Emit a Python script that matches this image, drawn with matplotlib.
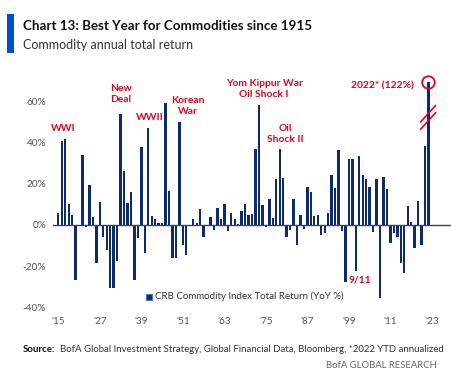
import numpy as np
import matplotlib
matplotlib.use("Agg")
import matplotlib.pyplot as plt
from matplotlib.patches import Rectangle

plt.rcParams['font.family'] = ['Lato', 'DejaVu Sans']

# --- data: CRB Commodity Index total return, YoY %, 1915..2022 ---
years = np.arange(1915, 2023)
returns = [
    5.7, 41, 42, 10, 5, -27, -0.5, 34, -1, 19.5,          # 1915-1924
    4, -18.7, 11.4, -5.8, -12, -30.6, -30.6, -17.6, 54.2, 26.5,  # 1925-1934
    10.6, 16, -26.8, -6.4, 37.9, -13.7, 47.3, 4.5, 2.8, 0.8,  # 1935-1944
    0.8, 59.7, 16.6, -16.3, -16.3, 50.4, -9.8, -14.6, -0.6, 2.8,  # 1945-1954
    1.1, 7.8, -5.7, -0.4, 4, -2.4, 8.5, 2.8, 10, -2.7,    # 1955-1964
    5.7, 3, 0.5, 6.8, 10, 5, 5.2, 37.2, 58.5, 9.7,        # 1965-1974
    -1.2, 12.7, 3.2, 22.4, 36.9, 22.8, -6, -2.2, 12.9, -9.8,  # 1975-1984
    4.9, -1.9, 18.7, 16, 4.5, 5, -4.9, -4, 6, 24.2,       # 1985-1994
    17.9, 36.6, -2.8, -28, 32, 32, -22.4, 33.5, 24.2, 22.3,  # 1995-2004
    18.7, -3.6, 22.3, -35.8, 23.6, 17.4, -8.9, -4, -5.7, -18.7,  # 2005-2014
    -23.6, 9.4, 1.6, -11.4, 11.5, -10, 38.5, 122,         # 2015-2022
]

xtick_years = [1915, 1927, 1939, 1951, 1963, 1975, 1987, 1999, 2011, 2023]
xtick_labels = ["'15", "'27", "'39", "'51", "'63", "'75", "'87", "'99", "'11", "'23"]
ytick_vals = [-40, -20, 0, 20, 40, 60]

events = [
    ("WWI", 1916.5, 47),
    ("New\nDeal", 1933, 63.7),
    ("WWII", 1941.3, 52.2),
    ("Korean\nWar", 1952.5, 58),
    ("Yom Kippur War\nOil Shock I", 1974.5, 66.3),
    ("Oil\nShock II", 1980.5, 44.4),
    ("9/11", 2002.3, -27),
]

BAR = '#0d2a6e'
RED = '#e8001c'
GREY = '#555555'

fig = plt.figure(figsize=(4.52, 3.81), dpi=100)
ax = fig.add_axes([0.1175, 0.1942, 0.884, 0.5893])

top = 69.5
ax.bar(years, returns, width=0.68, color=BAR, zorder=2)
ax.axhline(0, color='#444444', lw=1.0, zorder=3)
ax.set_xlim(1913.5, 2029)
ax.set_ylim(-40, top)

for s in ax.spines.values():
    s.set_visible(False)
ax.set_yticks(ytick_vals)
ax.set_yticklabels([f"{v}%" for v in ytick_vals])
ax.set_xticks(xtick_years)
ax.set_xticklabels(xtick_labels)
ax.tick_params(length=0, labelsize=7.2, labelcolor=GREY, pad=5)
ax.tick_params(axis='x', pad=7)

for txt, x, y in events:
    ax.text(x, y, txt, color=RED, fontsize=7.4, fontweight='bold',
            ha='center', va='center', linespacing=1.3, clip_on=False)

# 2022 callout with broken-axis marks
ax.text(2017.8, top - 1.5, "2022* (122%)", color=RED, fontsize=7.4,
        fontweight='bold', ha='right', va='center', clip_on=False)
ax.plot([2022], [top], marker='o', ms=9, mfc='none', mec=RED, mew=1.3,
        clip_on=False, zorder=5)
for off in (0, 3.5):
    ax.plot([2019.6, 2024.2], [46.5 + off, 55 + off], color=RED, lw=1.2,
            solid_capstyle='butt', zorder=5)

# legend
fig.patches.append(Rectangle((146 / 452, 1 - 299.5 / 381), 6 / 452, 6 / 381,
                             transform=fig.transFigure, facecolor=BAR,
                             edgecolor='#4a78c8', lw=0.8))
fig.text(155 / 452, 1 - 296.5 / 381, "CRB Commodity Index Total Return (YoY %)",
         fontsize=7.0, color='#333333', va='center')

# title block
fig.patches.append(Rectangle((7 / 452, 1 - 53 / 381), 7 / 452, 39 / 381,
                             transform=fig.transFigure, facecolor='#0052cc',
                             edgecolor='none'))
fig.text(23 / 452, 1 - 26 / 381, "Chart 13: Best Year for Commodities since 1915",
         fontsize=9.6, fontweight='bold', color='#111111', va='center')
fig.text(23 / 452, 1 - 45 / 381, "Commodity annual total return",
         fontsize=9, color='#333333', va='center')

# source
fig.text(23 / 452, 1 - 350 / 381, "Source:", fontsize=6.9, fontweight='bold',
         color='#111111', va='center')
fig.text(60 / 452, 1 - 350 / 381,
         "BofA Global Investment Strategy, Global Financial Data, Bloomberg, *2022 YTD annualized",
         fontsize=6.9, color='#333333', va='center')
fig.text(437 / 452, 1 - 366 / 381, "BofA GLOBAL RESEARCH", fontsize=6.8,
         color='#666666', va='center', ha='right')

fig.savefig("out.png", dpi=100)
